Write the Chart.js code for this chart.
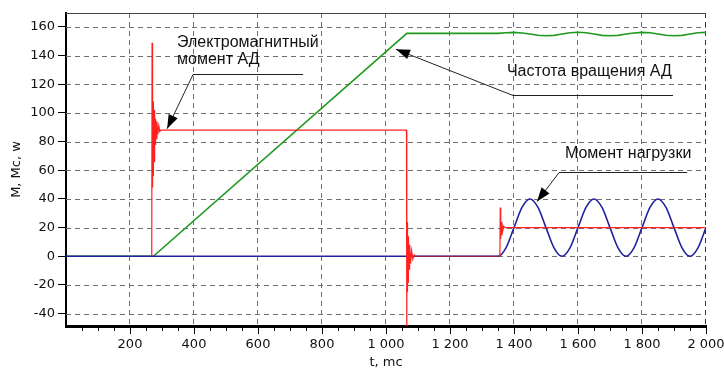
<!DOCTYPE html>
<html>
<head>
<meta charset="utf-8">
<script src="https://cdn.jsdelivr.net/npm/chart.js@4.4.1/dist/chart.umd.min.js"></script>
<style>
  html, body { margin: 0; padding: 0; background: #fff; }
  #wrap { width: 724px; height: 370px; }
</style>
</head>
<body>
<div id="wrap"><canvas id="chart" width="724" height="370"></canvas></div>
<script>
// ── DATA ──────────────────────────────────────────────────────────
const xTicks = [200, 400, 600, 800, 1000, 1200, 1400, 1600, 1800, 2000];
const yTicks = [-40, -20, 0, 20, 40, 60, 80, 100, 120, 140, 160];

// Электромагнитный момент АД (red)
const redT = [268, 269, 269.5, 270, 270.5, 271, 271.5, 272, 272.5, 273, 273.5, 274, 275, 276,
              277, 278, 279, 280, 282, 284, 287, 290, 293, 296,
              1064, 1064.5, 1065, 1065.5, 1066, 1066.5, 1067, 1067.5, 1068, 1069, 1070,
              1072, 1074, 1077, 1080, 1084, 1088, 1092,
              1356, 1357, 1358, 1359, 1360, 1362, 1365, 1368, 1372, 2000];
const redM = [0, 149, 50, 112, 48, 110, 52, 108, 56, 106, 60, 104, 66, 102,
              72, 99, 78, 96, 82, 94, 85, 91, 87, 88,
              88, -60, 25, -26, 24, -25, 22, -22, 18, -18, 14,
              -9, 8, -5, 4, -2, 1, 0,
              0, 34, 12, 27, 15, 24, 18, 21, 20, 20];

// Частота вращения АД (green)
const greenT = [0, 273, 1065, 1350, 1375, 1400, 1425, 1450, 1475, 1500, 1525, 1550,
                1575, 1600, 1625, 1650, 1675, 1700, 1725, 1750, 1775, 1800, 1825,
                1850, 1875, 1900, 1925, 1950, 1975, 2000];
const greenW = [0, 0, 155.5, 155.5, 155.9, 156.2, 155.8, 155.0, 154.2, 153.8, 154.1, 155.0,
                155.9, 156.3, 155.9, 155.0, 154.1, 153.8, 154.1, 155.0, 155.8, 156.2, 155.9,
                155.0, 154.2, 153.8, 154.1, 155.0, 155.9, 156.2];

// Момент нагрузки (blue)
const blueT = [0, 1350, 1375, 1400, 1425, 1450, 1475, 1500, 1525, 1550, 1575, 1600,
               1625, 1650, 1675, 1700, 1725, 1750, 1775, 1800, 1825, 1850, 1875,
               1900, 1925, 1950, 1975, 2000];
const blueMc = [0, 0, 5.9, 20, 34.1, 40, 34.1, 20, 5.9, 0, 5.9, 20,
                34.1, 40, 34.1, 20, 5.9, 0, 5.9, 20, 34.1, 40, 34.1,
                20, 5.9, 0, 5.9, 20];

// Callouts (data units): text lines, text anchor, underline, arrow tip
const notes = [
  { lines: ["Электромагнитный", "момент АД"], tx: 347, ty: [145.8, 134],
    lineY: 127, lineX: [397, 741], tip: [316, 89] },
  { lines: ["Частота вращения АД"], tx: 1378, ty: [125.7],
    lineY: 112.5, lineX: [1397, 1897], tip: [1031, 144.4] },
  { lines: ["Момент нагрузки"], tx: 1559, ty: [68.8],
    lineY: 59, lineX: [1541, 1941], tip: [1472, 38.2] },
];

// ── HELPERS ───────────────────────────────────────────────────────
const zip = (xs, ys) => xs.map((x, i) => ({ x, y: ys[i] }));
const fmt = v => v >= 1000
  ? Math.floor(v / 1000) + " " + String(v % 1000).padStart(3, "0")
  : String(v);

const tickFont = { family: "DejaVu Sans", size: 13 };

// Grid + frame under the lines, minor ticks and callouts on top
const decor = {
  id: "decor",
  beforeDatasetsDraw(chart) {
    const { ctx, chartArea: a, scales: { x, y } } = chart;
    ctx.save();
    ctx.lineWidth = 1;
    ctx.setLineDash([5, 4]);
    ctx.strokeStyle = "#707070";
    yTicks.forEach(v => {
      const py = Math.round(y.getPixelForValue(v)) + 0.5;
      ctx.beginPath(); ctx.moveTo(a.left, py); ctx.lineTo(a.right, py); ctx.stroke();
    });
    xTicks.forEach(v => {
      const px = Math.round(x.getPixelForValue(v)) - 0.5;
      ctx.strokeStyle = v === 2000 ? "#333333" : "#707070";
      ctx.beginPath(); ctx.moveTo(px, a.top); ctx.lineTo(px, a.bottom); ctx.stroke();
    });
    ctx.setLineDash([]);
    ctx.strokeStyle = "#444444";
    ctx.beginPath(); ctx.moveTo(a.left, a.top + 0.5); ctx.lineTo(a.right, a.top + 0.5); ctx.stroke();
    ctx.restore();
  },
  afterDraw(chart) {
    const { ctx, chartArea: a, scales: { x, y } } = chart;
    ctx.save();
    ctx.lineWidth = 1;
    ctx.strokeStyle = "#000000";
    // minor x ticks every 50
    for (let v = 50; v < 2000; v += 50) {
      if (v % 200 === 0) continue;
      const px = Math.round(x.getPixelForValue(v)) + 0.5;
      ctx.beginPath(); ctx.moveTo(px, a.bottom + 1); ctx.lineTo(px, a.bottom + 5); ctx.stroke();
    }
    // callouts
    ctx.font = '16px "Liberation Sans"';
    notes.forEach(n => {
      ctx.fillStyle = "#111111";
      n.lines.forEach((t, i) => {
        ctx.fillText(t, x.getPixelForValue(n.tx), y.getPixelForValue(n.ty[i]));
      });
      const ly = Math.round(y.getPixelForValue(n.lineY)) + 0.5;
      const x0 = x.getPixelForValue(n.lineX[0]);
      const x1 = x.getPixelForValue(n.lineX[1]);
      const tx = x.getPixelForValue(n.tip[0]);
      const ty = y.getPixelForValue(n.tip[1]);
      ctx.strokeStyle = "#222222";
      ctx.beginPath(); ctx.moveTo(x1, ly); ctx.lineTo(x0, ly); ctx.lineTo(tx, ty); ctx.stroke();
      const ang = Math.atan2(ty - ly, tx - x0);
      const len = 14, hw = 5;
      const bx = tx - len * Math.cos(ang), by = ty - len * Math.sin(ang);
      ctx.fillStyle = "#000000";
      ctx.beginPath();
      ctx.moveTo(tx, ty);
      ctx.lineTo(bx + hw * Math.sin(ang), by - hw * Math.cos(ang));
      ctx.lineTo(bx - hw * Math.sin(ang), by + hw * Math.cos(ang));
      ctx.closePath();
      ctx.fill();
    });
    ctx.restore();
  }
};

// ── CHART ─────────────────────────────────────────────────────────
new Chart(document.getElementById("chart"), {
  type: "line",
  data: {
    datasets: [
      {
        label: "M",
        data: zip(redT, redM),
        borderColor: "#ff2020",
        borderWidth: 1.2,
        tension: 0,
        pointRadius: 0,
        order: 0,
        segment: {
          // red over blue on the zero stretch reads as dark crimson
          borderColor: c => (c.p0.parsed.y === 0 && c.p1.parsed.y === 0) ? "#8c1f4c" : undefined
        }
      },
      {
        label: "Mc",
        data: zip(blueT, blueMc),
        borderColor: "#22229a",
        borderWidth: 1.6,
        cubicInterpolationMode: "monotone",
        pointRadius: 0,
        order: 1,
      },
      {
        label: "w",
        data: zip(greenT, greenW),
        borderColor: "#1f9a1f",
        borderWidth: 1.6,
        tension: 0,
        pointRadius: 0,
        order: 2,
      },
    ]
  },
  options: {
    responsive: false,
    animation: false,
    layout: { padding: { left: 0, top: 13, right: 18, bottom: 0 } },
    plugins: {
      legend: { display: false },
      tooltip: { enabled: false },
    },
    scales: {
      x: {
        type: "linear",
        min: 0,
        max: 2000,
        afterBuildTicks: s => { s.ticks = xTicks.map(v => ({ value: v })); },
        afterFit: s => { s.height = 44; s.paddingLeft = 0; s.paddingRight = 0; },
        ticks: {
          font: tickFont, color: "#111", padding: 3,
          maxRotation: 0, autoSkip: false,
          callback: v => fmt(v),
        },
        grid: { drawOnChartArea: false, tickLength: 8, tickColor: "#000" },
        border: { color: "#000", width: 3 },
        title: {
          display: true, text: "t, mc",
          font: tickFont, color: "#111",
          padding: { top: 0, bottom: 0 },
        },
      },
      y: {
        type: "linear",
        min: -48.6,
        max: 169.7,
        afterBuildTicks: s => { s.ticks = yTicks.map(v => ({ value: v })); },
        afterFit: s => { s.width = 66; s.paddingTop = 0; s.paddingBottom = 0; },
        ticks: { font: tickFont, color: "#111", padding: 3 },
        grid: { drawOnChartArea: false, tickLength: 8, tickColor: "#000" },
        border: { color: "#000", width: 2 },
        title: {
          display: true, text: "M, Mc, w",
          font: tickFont, color: "#111",
          padding: { top: 9, bottom: 0 },
        },
      },
    }
  },
  plugins: [decor]
});
</script>
</body>
</html>
